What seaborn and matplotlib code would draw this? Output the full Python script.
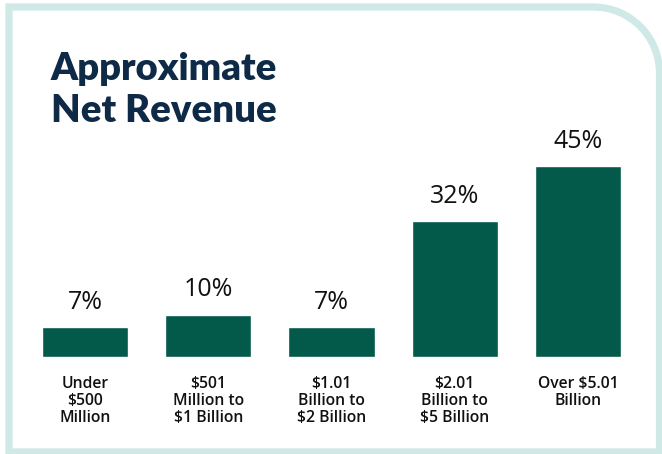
import matplotlib
matplotlib.use("Agg")
import matplotlib.pyplot as plt
import seaborn as sns
import pandas as pd
from matplotlib.path import Path
from matplotlib.patches import PathPatch

categories = ["Under\n$500\nMillion", "$501\nMillion to\n$1 Billion", "$1.01\nBillion to\n$2 Billion",
              "$2.01\nBillion to\n$5 Billion", "Over $5.01\nBillion"]
values = [7, 10, 7, 32, 45]
value_labels = ["7%", "10%", "7%", "32%", "45%"]
title = "Approximate\nNet Revenue"

BAR = "#03594a"
NAVY = "#0e2a47"
BORDER = "#cfe9e7"

sns.set_theme(style="white")
W, H = 662, 454
fig = plt.figure(figsize=(W / 100, H / 100), dpi=100)
fig.patch.set_facecolor("white")

# background/frame axes in pixel coordinates
bg = fig.add_axes([0, 0, 1, 1])
bg.set_xlim(0, W)
bg.set_ylim(H, 0)
bg.axis("off")
r = 66
x0, y0, x1, y1 = 9, 7, 659.5, 452
k = 0.5523 * r
verts = [(x0, y1), (x0, y0), (x1 - r, y0),
         (x1 - r + k, y0), (x1, y0 + r - k), (x1, y0 + r),
         (x1, y1), (x0, y1)]
codes = [Path.MOVETO, Path.LINETO, Path.LINETO,
         Path.CURVE4, Path.CURVE4, Path.CURVE4,
         Path.LINETO, Path.CLOSEPOLY]
bg.add_patch(PathPatch(Path(verts, codes), facecolor="white", edgecolor=BORDER, lw=5.2))
t1, t2 = title.split("\n")
bg.text(51, 80, t1, fontsize=27.5, fontweight="heavy", color=NAVY,
        family=["Lato", "DejaVu Sans"], va="baseline", ha="left")
bg.text(51, 122, t2, fontsize=27.5, fontweight="heavy", color=NAVY,
        family=["Lato", "DejaVu Sans"], va="baseline", ha="left")

# main axes
bar_left_px, bar_right_px = 23.4, 639.6
ybottom_px, ytop_px = 357, 145
ax = fig.add_axes([bar_left_px / W, 1 - ybottom_px / H,
                   (bar_right_px - bar_left_px) / W, (ybottom_px - ytop_px) / H])
ax.patch.set_alpha(0)
df = pd.DataFrame({"cat": categories, "val": values})
sns.barplot(data=df, x="cat", y="val", color=BAR, width=0.7, saturation=1, ax=ax)
ax.set_xlim(-0.5, 4.5)
ax.set_ylim(0, 50)
for i, (v, lab) in enumerate(zip(values, value_labels)):
    ax.annotate(lab, (i, v), xytext=(0, 9), textcoords="offset points",
                ha="center", va="bottom", fontsize=18, color="#111111",
                family=["Open Sans", "DejaVu Sans"], annotation_clip=False)
ax.set_xlabel("")
ax.set_ylabel("")
ax.set_yticks([])
ax.tick_params(axis="x", length=0, pad=14)
for t in ax.get_xticklabels():
    t.set_fontsize(11.3)
    t.set_family(["Open Sans", "DejaVu Sans"])
    t.set_fontweight("semibold")
    t.set_color("#111111")
    t.set_linespacing(1.08)
    t.set_va("top")
for s in ax.spines.values():
    s.set_visible(False)

fig.savefig("out.png", dpi=100, facecolor="white")
